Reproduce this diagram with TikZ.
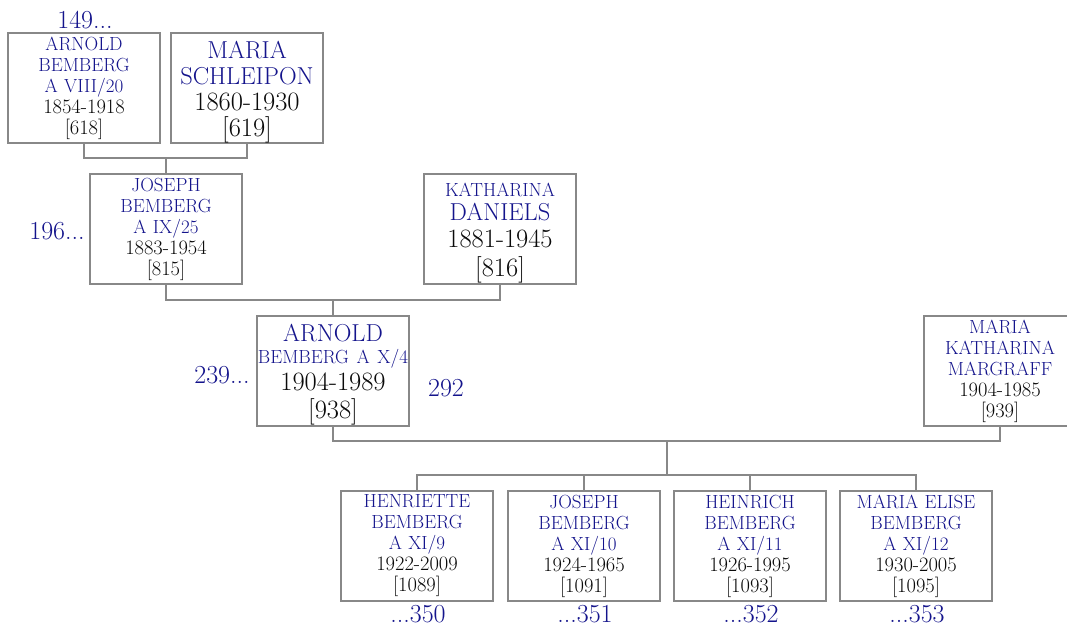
\documentclass[tikz,border=0pt]{standalone}
\definecolor{nameblue}{RGB}{20,20,140}
\definecolor{linegray}{RGB}{136,136,136}
\definecolor{textdark}{RGB}{10,10,10}
\newcommand{\pnS}[1]{{\color{nameblue}\fontsize{19}{21}\selectfont #1}}
\newcommand{\pnB}[1]{{\color{nameblue}\fontsize{24.5}{26}\selectfont #1}}
\newcommand{\pdS}[1]{{\fontsize{20.5}{21}\selectfont #1}}
\newcommand{\pdB}[1]{{\fontsize{26.5}{26}\selectfont #1}}
\newcommand{\tallstrut}[1]{\rule{0pt}{#1}}
\tikzset{
  pbox/.style={draw=linegray, line width=1.3pt, minimum width=152pt, minimum height=110pt,
    inner sep=0pt, text width=152pt, align=center, text=textdark},
  smallbox/.style={pbox, font=\fontsize{19}{21}\selectfont},
  bigbox/.style={pbox, font=\fontsize{23}{26}\selectfont},
  reflabel/.style={text=nameblue, font=\fontsize{26}{26}\selectfont, inner sep=0pt},
  conn/.style={draw=linegray, line width=1.3pt}
}
\begin{document}
\begin{tikzpicture}[x=1pt, y=-1pt]
\clip (0,0) rectangle (1067,628);
\fill[white] (0,0) rectangle (1067,628);
% generation VIII
\node[smallbox] (A) at (84,88) {\pnS{ARNOLD}\\\pnS{BEMBERG}\\\pnS{A VIII/20}\\\pdS{1854-1918}\\\pdS{[618]}};
\node[bigbox] (B) at (247,88) {\tallstrut{25pt}\pnB{MARIA}\\\pnB{SCHLEIPON}\\\pdB{1860-1930}\\\pdB{[619]}};
\node[reflabel] (r149) at (85,20) {149...};
% generation IX
\node[smallbox] (C) at (166,229) {\pnS{JOSEPH}\\\pnS{BEMBERG}\\\pnS{A IX/25}\\\pdS{1883-1954}\\\pdS{[815]}};
\node[bigbox] (D) at (500,229) {\tallstrut{22pt}\pnS{KATHARINA}\\[-2pt]\pnB{DANIELS}\\[1.5pt]\pdB{1881-1945}\\[3pt]\pdB{[816]}};
\node[reflabel] (r196) at (57,231) {196...};
% generation X
\node[bigbox] (E) at (333,371) {\tallstrut{25pt}\pnB{ARNOLD}\\[-4pt]\pnS{BEMBERG A X/4}\\[1pt]\pdB{1904-1989}\\[2pt]\pdB{[938]}};
\node[smallbox] (F) at (1000,371) {\pnS{MARIA}\\\pnS{KATHARINA}\\\pnS{MARGRAFF}\\\pdS{1904-1985}\\\pdS{[939]}};
\node[reflabel] (r239) at (222,375) {239...};
\node[reflabel] (r292) at (446,388) {292};
% generation XI
\node[smallbox] (G) at (417,546) {\pnS{HENRIETTE}\\\pnS{BEMBERG}\\\pnS{A XI/9}\\\pdS{1922-2009}\\\pdS{[1089]}};
\node[smallbox] (H) at (584,546) {\pnS{JOSEPH}\\\pnS{BEMBERG}\\\pnS{A XI/10}\\\pdS{1924-1965}\\\pdS{[1091]}};
\node[smallbox] (I) at (750,546) {\pnS{HEINRICH}\\\pnS{BEMBERG}\\\pnS{A XI/11}\\\pdS{1926-1995}\\\pdS{[1093]}};
\node[smallbox] (J) at (916,546) {\pnS{MARIA ELISE}\\\pnS{BEMBERG}\\\pnS{A XI/12}\\\pdS{1930-2005}\\\pdS{[1095]}};
\node[reflabel] (r350) at (418,614) {...350};
\node[reflabel] (r351) at (585,614) {...351};
\node[reflabel] (r352) at (751,614) {...352};
\node[reflabel] (r353) at (917,614) {...353};
% connectors
\coordinate (j1) at (166,158);
\draw[conn] (A.south) |- (j1) -| (B.south);
\draw[conn] (j1) -- (C.north);
\coordinate (j2) at (333,300);
\draw[conn] (C.south) |- (j2) -| (D.south);
\draw[conn] (j2) -- (E.north);
\coordinate (j3) at (667,441);
\coordinate (k) at (667,475);
\draw[conn] (E.south) |- (j3) -| (F.south);
\draw[conn] (j3) -- (k);
\draw[conn] (G.north) |- (k) -| (J.north);
\draw[conn] (H.north) -- (H.north |- k);
\draw[conn] (I.north) -- (I.north |- k);
\end{tikzpicture}
\end{document}
